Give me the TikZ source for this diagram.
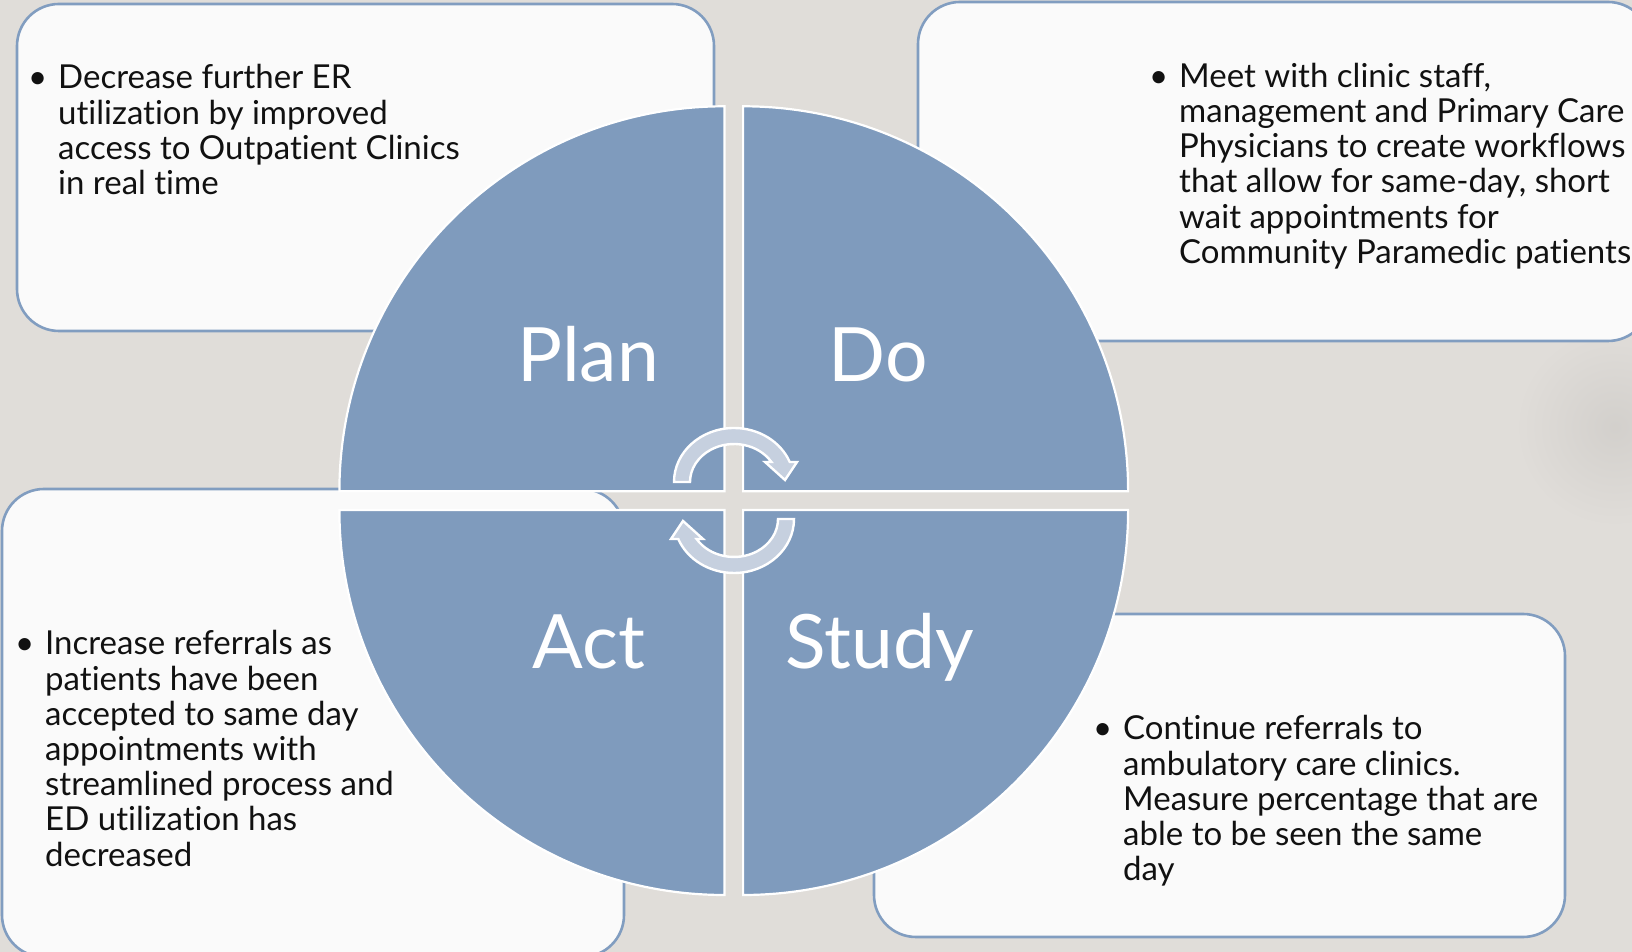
\documentclass[tikz,border=0pt]{standalone}
\usepackage{fontspec}
\setmainfont{Lato}[RawFeature={-liga;-clig;-calt;-dlig}]
\definecolor{bg}{HTML}{E0DDD9}
\definecolor{boxfill}{HTML}{FAFAFA}
\definecolor{boxline}{HTML}{819DC0}
\definecolor{quadfill}{HTML}{7F9BBD}
\definecolor{arrowfill}{HTML}{C6D0DF}
\definecolor{txtc}{HTML}{111111}
\tikzset{
  infobox/.style={draw=boxline, fill=boxfill, line width=2.6pt, rounded corners=42pt, inner sep=0pt},
  quadrant/.style={fill=quadfill, draw=white, line width=2.2pt},
  cyclearrow/.style={fill=arrowfill, draw=white, line width=2.4pt, line join=miter},
  bullettext/.style={anchor=base west, inner sep=0pt, text=txtc, font=\fontsize{33}{35.2}\selectfont},
  phase/.style={anchor=base, inner sep=0pt, text=white, font=\fontsize{75}{90}\selectfont}
}
\newcommand\bulletlines[1]{\vtop{\hsize=620pt\noindent\llap{\textbullet\hspace{11pt}}#1}}
\begin{document}
\begin{tikzpicture}[x=1pt,y=1pt]
\useasboundingbox (0,0) rectangle (1632,952);
\clip (0,0) rectangle (1632,952);
\fill[bg] (0,0) rectangle (1632,952);
\shade[inner color=bg!94!black, outer color=bg] (1615,525) circle (100);

% text boxes
\node[infobox, minimum width=697pt, minimum height=327pt] (boxPlan) at (365.5,784.5) {};
\node[infobox, minimum width=732pt, minimum height=339pt] (boxDo) at (1284,780.5) {};
\node[infobox, minimum width=622pt, minimum height=468pt] (boxAct) at (313,229) {};
\node[infobox, minimum width=691pt, minimum height=323pt] (boxStudy) at (1219.5,176.5) {};

% quadrants
\filldraw[quadrant] (724.4,460.7) -- ++(-385,0) arc[start angle=180,end angle=90,radius=385] -- cycle;
\filldraw[quadrant] (743.1,460.7) -- ++(0,385) arc[start angle=90,end angle=0,radius=385] -- cycle;
\filldraw[quadrant] (724.4,442) -- ++(0,-385) arc[start angle=270,end angle=180,radius=385] -- cycle;
\filldraw[quadrant] (743.1,442) -- ++(385,0) arc[start angle=0,end angle=-90,radius=385] -- cycle;

% cycle arrows
\begin{scope}[shift={(734,470)}]
\filldraw[cyclearrow] (-60,0) arc[start angle=180,end angle=21.7,x radius=60,y radius=54] -- (63,20) -- (51,2) -- (31,20) -- (37.4,20) arc[start angle=31.8,end angle=180,x radius=44,y radius=38] -- cycle;
\end{scope}
\begin{scope}[shift={(734,433)},rotate=180]
\filldraw[cyclearrow] (-60,0) arc[start angle=180,end angle=21.7,x radius=60,y radius=54] -- (63,20) -- (51,2) -- (31,20) -- (37.4,20) arc[start angle=31.8,end angle=180,x radius=44,y radius=38] -- cycle;
\end{scope}

% phase labels
\node[phase] (plan) at (588,570) {Plan};
\node[phase] (do) at (878,570) {Do};
\node[phase] (act) at (589,283) {Act};
\node[phase] (study) at (879.5,283) {Study};

% bullet texts
\node[bullettext] (tPlan) at (58,863) {\bulletlines{Decrease further ER\\utilization by improved\\access to Outpatient Clinics\\in real time}};
\node[bullettext] (tDo) at (1179,864.6) {\bulletlines{Meet with clinic staff,\\management and Primary Care\\Physicians to create workflows\\that allow for same-day, short\\wait appointments for\\Community Paramedic patients}};
\node[bullettext] (tAct) at (45,297) {\bulletlines{Increase referrals as\\patients have been\\accepted to same day\\appointments with\\streamlined process and\\ED utilization has\\decreased}};
\node[bullettext] (tStudy) at (1123,212) {\bulletlines{Continue referrals to\\ambulatory care clinics.\\Measure percentage that are\\able to be seen the same\\day}};
\end{tikzpicture}
\end{document}
